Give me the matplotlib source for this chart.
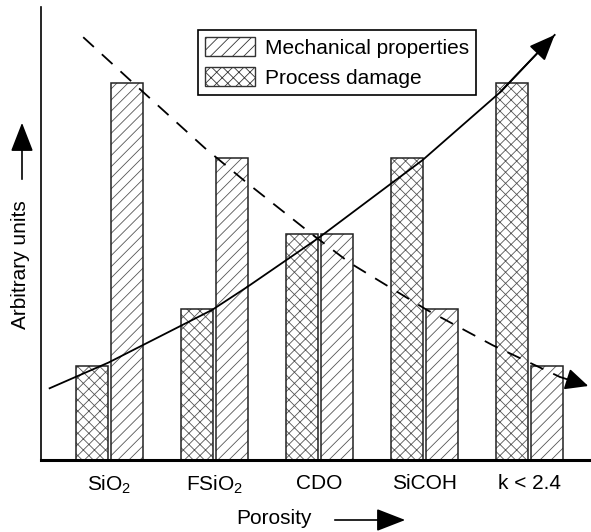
import numpy as np
import matplotlib
matplotlib.use("Agg")
import matplotlib.pyplot as plt
from matplotlib.patches import Patch, FancyArrowPatch

plt.rcParams['font.family'] = ['Liberation Sans', 'DejaVu Sans']
plt.rcParams['mathtext.fontset'] = 'custom'
plt.rcParams['mathtext.rm'] = 'Liberation Sans'
plt.rcParams['mathtext.it'] = 'Liberation Sans'
plt.rcParams['mathtext.default'] = 'regular'
plt.rcParams['hatch.linewidth'] = 0.6

materials = ['SiO$_2$', 'FSiO$_2$', 'CDO', 'SiCOH', 'k < 2.4']
mechanical = [5.0, 4.0, 3.0, 2.0, 1.25]
damage = [1.25, 2.0, 3.0, 4.0, 5.0]

# trend curves (x in category units, y in arbitrary units)
damage_trend_x = [-0.57, -0.01, 0.98, 1.31, 1.99, 2.70, 2.98, 3.72, 4.24]
damage_trend_y = [0.95, 1.29, 1.99, 2.29, 2.94, 3.68, 3.97, 4.87, 5.63]
mech_trend_x = [-0.25, 0.26, 0.91, 1.31, 1.91, 2.29, 3.02, 3.65, 4.29, 4.56]
mech_trend_y = [5.60, 4.95, 4.13, 3.67, 3.01, 2.61, 1.99, 1.52, 1.10, 0.98]

fig = plt.figure(figsize=(5.91, 5.32), dpi=100)
ax = fig.add_axes([41 / 591, 1 - 460 / 532, 1 - 41 / 591, 453 / 532])

x = np.arange(len(materials))
w = 0.31
off = 0.165

# hatch fill (grey) and a dark outline drawn on top
ax.bar(x - off, damage, w, facecolor='white', edgecolor='#555555', hatch='xxx', lw=0)
ax.bar(x - off, damage, w, fill=False, edgecolor='#222222', lw=1.1)
ax.bar(x + off, mechanical, w, facecolor='white', edgecolor='#555555', hatch='///', lw=0)
ax.bar(x + off, mechanical, w, fill=False, edgecolor='#222222', lw=1.1)

# process damage trend (solid, rising)
ax.plot(damage_trend_x, damage_trend_y, color='black', lw=1.3, zorder=4)
ax.annotate('', xy=(damage_trend_x[-1], damage_trend_y[-1]),
            xytext=(damage_trend_x[-2], damage_trend_y[-2]),
            arrowprops=dict(arrowstyle='-|>,head_length=0.8,head_width=0.33',
                            color='black', lw=1.3, mutation_scale=20,
                            shrinkA=0, shrinkB=0), zorder=4)

# mechanical trend (dashed, falling)
ax.plot(mech_trend_x[:-1], mech_trend_y[:-1], color='black', lw=1.3,
        dashes=(8, 6), zorder=4)
ax.annotate('', xy=(mech_trend_x[-1], mech_trend_y[-1]),
            xytext=(mech_trend_x[-2], mech_trend_y[-2]),
            arrowprops=dict(arrowstyle='-|>,head_length=0.7,head_width=0.33',
                            color='black', lw=1.3, mutation_scale=20,
                            shrinkA=0, shrinkB=0), zorder=4)

ax.set_xlim(-0.652, 4.586)
ax.set_ylim(0, 6.0)
ax.set_xticks(x, materials)
ax.set_yticks([])
ax.tick_params(axis='x', length=0, pad=10, labelsize=15)
ax.spines['top'].set_visible(False)
ax.spines['right'].set_visible(False)
ax.spines['bottom'].set_linewidth(2.2)
ax.spines['left'].set_linewidth(1.2)

# axis labels with direction arrows
fig.text(21 / 591, 1 - 265 / 532, 'Arbitrary units', rotation=90,
         ha='center', va='center', fontsize=15)
fig.add_artist(FancyArrowPatch(
    (22 / 591, 1 - 182 / 532), (22 / 591, 1 - 120 / 532),
    transform=fig.transFigure, arrowstyle='-|>,head_length=0.9,head_width=0.35',
    mutation_scale=20, color='black', lw=1.2))
fig.text(274 / 591, 1 - 519 / 532, 'Porosity', ha='center', va='center', fontsize=15)
fig.add_artist(FancyArrowPatch(
    (332 / 591, 1 - 520 / 532), (408 / 591, 1 - 520 / 532),
    transform=fig.transFigure, arrowstyle='-|>,head_length=0.9,head_width=0.35',
    mutation_scale=20, color='black', lw=1.2))

handles = [Patch(facecolor='white', edgecolor='#333333', hatch='///', lw=1.0),
           Patch(facecolor='white', edgecolor='#333333', hatch='xxx', lw=1.0)]
leg = fig.legend(handles, ['Mechanical properties', 'Process damage'],
                 loc='upper left', bbox_to_anchor=(198 / 591, 1 - 30 / 532),
                 fontsize=15, handlelength=2.4, handleheight=1.0,
                 handletextpad=0.45, labelspacing=0.45, borderpad=0.35,
                 borderaxespad=0, fancybox=False, framealpha=1)
leg.get_frame().set_edgecolor('black')
leg.get_frame().set_linewidth(1.2)

fig.savefig('out.png', dpi=100)
